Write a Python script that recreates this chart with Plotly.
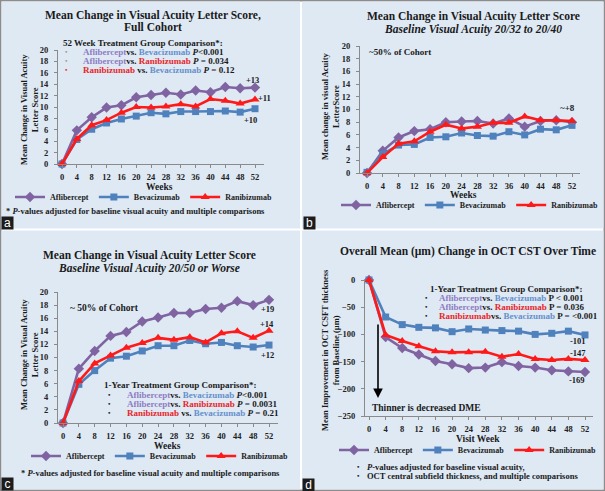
import plotly.graph_objects as go

W, H = 605, 491

weeks = [0, 4, 8, 12, 16, 20, 24, 28, 32, 36, 40, 44, 48, 52]

# panel a - full cohort
a_afl = [0, 5.9, 8.2, 9.9, 10.3, 11.7, 12.1, 12.5, 12.2, 12.9, 12.6, 13.5, 13.3, 13.4]
a_bev = [0, 4.3, 6.1, 7.2, 7.9, 8.4, 9.0, 8.8, 9.2, 9.2, 9.2, 9.3, 9.1, 9.7]
a_ran = [0, 4.4, 6.8, 7.7, 9.0, 10.0, 9.9, 10.1, 10.5, 10.1, 11.4, 11.1, 10.6, 11.3]

# panel b - baseline 20/32 to 20/40
b_afl = [0, 3.5, 5.6, 6.6, 6.9, 8.0, 8.1, 8.2, 7.8, 8.6, 7.3, 8.2, 8.3, 8.0]
b_bev = [0.1, 3.0, 4.4, 4.5, 5.6, 5.7, 6.3, 5.9, 5.8, 6.5, 6.0, 6.9, 6.8, 7.5]
b_ran = [0, 2.5, 4.6, 5.0, 6.5, 7.6, 7.0, 7.3, 7.9, 7.9, 8.9, 8.3, 8.3, 8.2]

# panel c - baseline 20/50 or worse
c_afl = [0, 8.3, 11.0, 13.3, 13.9, 15.5, 16.1, 16.8, 16.8, 17.4, 17.6, 18.6, 18.0, 18.8]
c_bev = [0, 5.9, 8.0, 9.9, 10.2, 11.0, 11.8, 11.8, 12.6, 12.1, 12.3, 11.8, 11.6, 11.9]
c_ran = [0, 6.4, 9.1, 10.3, 11.5, 12.2, 13.0, 12.7, 13.1, 12.3, 13.7, 14.0, 13.0, 14.1]

# panel d - OCT CST change (um)
d_afl = [0, -105, -125, -137, -149, -155, -162, -161, -151, -158, -161, -166, -168, -169]
d_bev = [0, -68, -82, -87, -88, -95, -90, -92, -93, -94, -100, -98, -94, -101]
d_ran = [0, -101, -112, -122, -131, -133, -133, -132, -141, -136, -145, -147, -145, -147]

drugs = ["Aflibercept", "Bevacizumab", "Ranibizumab"]
colors = ["#8064A2", "#4F81BD", "#FF1A1A"]
symbols = ["diamond", "square", "triangle-up"]
txt_col = {"afl": "#8E7CC3", "bev": "#6690CB", "ran": "#E8262A"}

FONT = "Liberation Serif"
BG = "#DEE9F4"


def X(p):
    return p / W


def Y(p):
    return 1 - p / H


fig = go.Figure()

panels = [
    # data, x px of week 0, x px of week 52, axis left, axis right, y px (v0, v1), values (v0, v1), dtick
    ([a_afl, a_bev, a_ran], 62, 255, 58, 264, 164, 50, 0, 20, 2),
    ([b_afl, b_bev, b_ran], 367, 572, 360, 580, 173, 46, 0, 20, 2),
    ([c_afl, c_bev, c_ran], 63, 269, 58, 278, 423, 292, 0, 20, 2),
    ([d_afl, d_bev, d_ran], 369, 585, 365, 593, 280, 416, 0, -250, 50),
]

for i, (series, x0, x52, left, right, yp0, yp1, v0, v1, dt) in enumerate(panels):
    n = "" if i == 0 else str(i + 1)
    per = (x52 - x0) / 52
    xr = [(left - x0) / per, (right - x0) / per]
    ybot, ytop = max(yp0, yp1), min(yp0, yp1)
    yr = [min(v0, v1), max(v0, v1)]
    axis_style = dict(
        showgrid=False, zeroline=False, showline=True, linecolor="#8A8A8A", linewidth=1,
        ticks="outside", ticklen=3, tickcolor="#8A8A8A", automargin=False,
        tickfont=dict(family=FONT, size=8.5, color="#222", weight="bold"),
    )
    fig.update_layout(**{
        "xaxis" + n: dict(domain=[X(left), X(right)], range=xr, anchor="y" + n,
                          tickvals=weeks, ticklabelstandoff=2, **axis_style),
        "yaxis" + n: dict(domain=[Y(ybot), Y(ytop)], range=yr, anchor="x" + n,
                          dtick=dt, ticklabelstandoff=4, **axis_style),
    })
    lg = "legend" + n
    for vals, drug, col, sym in zip(series, drugs, colors, symbols):
        fig.add_trace(go.Scatter(
            x=weeks, y=vals, name=drug, mode="lines+markers",
            line=dict(color=col, width=2.6),
            marker=dict(symbol=sym, size=8 if sym != "square" else 7, color=col),
            xaxis="x" + n, yaxis="y" + n, legend=lg, cliponaxis=False,
        ))

legend_pos = [(10, 197), (336, 205), (26, 456), (334, 450)]
for i, (lx, ly) in enumerate(legend_pos):
    n = "" if i == 0 else str(i + 1)
    fig.update_layout(**{"legend" + n: dict(
        x=X(lx), y=Y(ly), xanchor="left", yanchor="middle", orientation="h",
        bgcolor="rgba(0,0,0,0)", itemwidth=30,
        font=dict(family=FONT, size=8, color="#222", weight="bold"),
    )})

ann = []


def txt(x, y, s, size=9, anchor="center", color="#1a1a1a", angle=0, bold=True):
    ann.append(dict(x=X(x), y=Y(y), xref="paper", yref="paper", text=s, showarrow=False,
                    xanchor=anchor, yanchor="middle", textangle=angle,
                    font=dict(family=FONT, size=size, color=color,
                              weight="bold" if bold else "normal")))


def c(key, s):
    return "<span style='color:%s'>%s</span>" % (txt_col[key], s)


# titles
txt(153, 15, "Mean Change in Visual Acuity Letter Score,", 11.5)
txt(153, 27, "Full Cohort", 11.5)
txt(473, 17, "Mean Change in Visual Acuity Letter Score", 11.5)
txt(473, 29, "<i>Baseline Visual Acuity 20/32 to 20/40</i>", 11.5)
txt(149, 255, "Mean Change in Visual Acuity Letter Score", 11.5)
txt(149, 268, "<i>Baseline Visual Acuity 20/50 or Worse</i>", 11.5)
txt(468, 251, "Overall Mean (µm) Change in OCT CST Over Time", 11.5)

# axis titles
txt(29, 110, "Mean Change in Visual Acuity<br>Letter Score", 8.5, angle=-90)
txt(330, 107, "Mean change in visual Acuity<br>LetterScore", 8.5, angle=-90)
txt(29, 355, "Mean Change in Visual Acuity<br>Letter Score", 8.5, angle=-90)
txt(330, 350, "Mean Improvement in OCT CSFT thickness<br>from Baseline (µm)", 8.5, angle=-90)
txt(159, 187, "Weeks", 9.5)
txt(463, 195, "Weeks", 9.5)
txt(167, 446, "Weeks", 9.5)
txt(478, 439, "Visit Week", 9.5)

# comparisons panel a
txt(143, 43, "52 Week Treatment Group Comparison*:", 9)
rows_a = [
    ("#999", c("afl", "Aflibercept") + "vs. " + c("bev", "Bevacizumab") + " <i>P</i>&lt;0.001"),
    ("#999", c("afl", "Aflibercept") + "vs. " + c("ran", "Ranibizumab") + " <i>P</i> = 0.034"),
    (txt_col["ran"], c("ran", "Ranibizumab") + " vs. " + c("bev", "Bevacizumab") + " <i>P</i> = 0.12"),
]
for k, (bc, s) in enumerate(rows_a):
    txt(66, 52 + 9 * k, "•", 7, color=bc)
    txt(81, 52 + 9 * k, s, 9, anchor="left")

# comparisons panel c
txt(180, 385, "1-Year Treatment Group Comparison*:", 9)
rows_c = [
    c("afl", "Aflibercept") + "vs. " + c("bev", "Bevacizumab") + " <i>P</i>&lt;0.001",
    c("afl", "Aflibercept") + "vs. " + c("ran", "Ranibizumab") + " <i>P</i> = 0.0031",
    c("ran", "Ranibizumab") + " vs. " + c("bev", "Bevacizumab") + " <i>P</i> = 0.21",
]
for k, s in enumerate(rows_c):
    txt(109, 395 + 9 * k, "•", 7)
    txt(125, 395 + 9 * k, s, 9, anchor="left")

# comparisons panel d
txt(506, 289, "1-Year Treatment Group Comparison*:", 9)
rows_d = [
    c("afl", "Aflibercept") + "vs. " + c("bev", "Bevacizumab") + " P &lt; 0.001",
    c("afl", "Aflibercept") + "vs. " + c("ran", "Ranibizumab") + " P = 0.036",
    c("ran", "Ranibizumab") + "vs. " + c("bev", "Bevacizumab") + " P = &lt;0.001",
]
for k, s in enumerate(rows_d):
    txt(426, 298 + 9 * k, "•", 7)
    txt(437, 298 + 9 * k, s, 9, anchor="left")

# cohort notes and end labels
txt(400, 52, "~50% of Cohort", 9)
txt(104, 308, "~ 50% of Cohort", 9.5)
txt(252, 80, "+13", 8.5)
txt(264, 98, "+11", 8.5)
txt(250, 120, "+10", 8.5)
txt(567, 108, "~+8", 9)
txt(267, 309, "+19", 8.5)
txt(267, 324, "+14", 8.5)
txt(267, 355, "+12", 8.5)
txt(578, 341, "-101", 8.5)
txt(578, 353, "-147", 8.5)
txt(577, 380, "-169", 8.5)

# arrow panel d
ann.append(dict(x=X(378), y=Y(398), xref="paper", yref="paper", ax=0, ay=-75,
                text="", showarrow=True, arrowhead=2, arrowsize=1.2, arrowwidth=1.6,
                arrowcolor="black"))
txt(426, 408, "Thinner is decreased DME", 9.5)

# footnotes
txt(4, 211, "* <i>P</i>-values adjusted for baseline visual acuity and multiple comparisons", 8.5, anchor="left")
txt(19, 473, "* <i>P</i>-values adjusted for baseline visual acuity and multiple comparisons", 8.5, anchor="left")
txt(358, 467, "•", 7)
txt(365, 467, "<i>P</i>-values adjusted for baseline visual acuity,", 8.5, anchor="left")
txt(358, 476, "•", 7)
txt(365, 476, "OCT central subfield thickness, and multiple comparisons", 8.5, anchor="left")

# panel letters
for lab, lx, ly in [("a", 1, 216), ("b", 303, 216), ("c", 1, 477), ("d", 302, 478)]:
    ann.append(dict(x=X(lx), y=Y(ly), xref="paper", yref="paper", text=lab, showarrow=False,
                    xanchor="left", yanchor="top", bgcolor="#1C1C1C", width=11, height=12,
                    borderpad=0, font=dict(family="Liberation Sans", size=12, color="white")))

shapes = [dict(type="rect", xref="paper", yref="paper", x0=X(0), x1=X(W), y0=Y(0), y1=Y(H),
               line=dict(color="#8C8C8C", width=3), fillcolor="white", layer="below")]
for px0, py0, px1, py1 in [(1.5, 1.5, 300, 228.5), (302, 1.5, 603.5, 228.5),
                           (1.5, 230.5, 300, 489.5), (302, 230.5, 603.5, 489.5)]:
    shapes.append(dict(type="rect", xref="paper", yref="paper", x0=X(px0), x1=X(px1),
                       y0=Y(py1), y1=Y(py0), line=dict(width=0), fillcolor=BG, layer="below"))

fig.update_layout(
    width=W, height=H, margin=dict(l=0, r=0, t=0, b=0, autoexpand=False),
    paper_bgcolor="white", plot_bgcolor="rgba(0,0,0,0)",
    annotations=ann, shapes=shapes, showlegend=True,
)

fig.write_html("out.html", config={"displayModeBar": False},
               post_script="document.body.style.margin = '0px';")
